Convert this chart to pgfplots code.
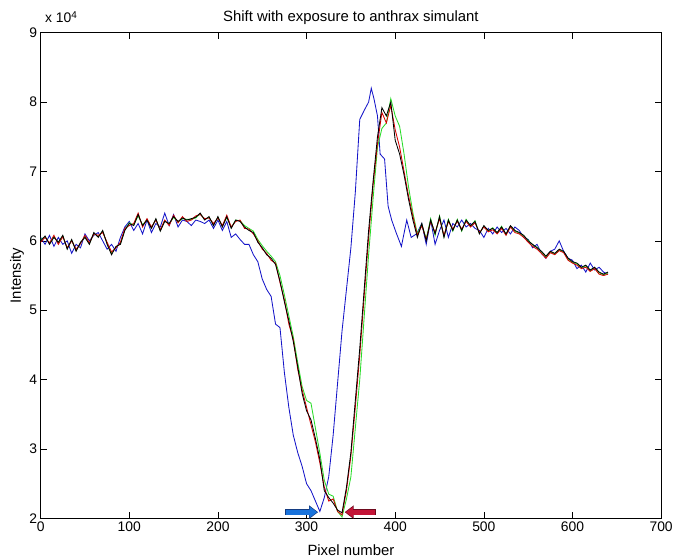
\documentclass[border=0pt]{standalone}
\usepackage{pgfplots}
\pgfplotsset{compat=1.18}
\usepackage{pgfplotstable}
\usepackage{fontspec}
\setmainfont{Liberation Sans}
\usetikzlibrary{arrows.meta}

\definecolor{mblue}{RGB}{20,20,200}
\definecolor{mgreen}{RGB}{40,220,40}
\definecolor{mred}{RGB}{215,0,0}
\definecolor{arrblue}{RGB}{25,115,220}
\definecolor{arrblueD}{RGB}{20,60,130}
\definecolor{arrred}{RGB}{195,20,55}
\definecolor{arrredD}{RGB}{110,10,30}

% x  black  red  green   (intensity in units of 10^4)
\pgfplotstableread{
x k r g
0 6.00 5.98 6.02
5 6.07 6.05 6.06
10 5.95 5.97 5.96
15 6.05 6.08 6.06
20 5.98 5.95 5.97
25 6.08 6.06 6.07
30 5.88 5.90 5.89
35 6.02 6.00 6.01
40 5.85 5.88 5.86
45 5.98 5.96 5.97
50 6.05 6.08 6.06
55 5.95 5.97 5.96
60 6.12 6.10 6.11
65 6.05 6.08 6.06
70 6.15 6.12 6.14
75 5.95 5.98 5.96
80 5.80 5.84 5.82
85 5.92 5.90 5.91
90 5.95 5.98 5.96
95 6.15 6.18 6.16
100 6.25 6.22 6.26
105 6.22 6.25 6.23
110 6.38 6.40 6.36
115 6.22 6.20 6.23
120 6.30 6.32 6.31
125 6.18 6.20 6.19
130 6.32 6.30 6.31
135 6.14 6.16 6.15
140 6.28 6.30 6.29
145 6.25 6.22 6.24
150 6.35 6.37 6.34
155 6.28 6.26 6.27
160 6.33 6.35 6.32
165 6.30 6.28 6.31
170 6.32 6.30 6.31
175 6.34 6.36 6.33
180 6.40 6.38 6.39
185 6.30 6.32 6.31
190 6.35 6.33 6.34
195 6.22 6.25 6.23
200 6.35 6.33 6.34
205 6.20 6.22 6.21
210 6.35 6.37 6.34
215 6.18 6.20 6.19
220 6.30 6.28 6.30
225 6.28 6.30 6.29
230 6.20 6.18 6.22
235 6.15 6.17 6.18
240 6.12 6.10 6.14
245 5.98 6.00 6.02
250 5.90 5.88 5.93
255 5.80 5.82 5.85
260 5.75 5.72 5.78
265 5.66 5.68 5.70
270 5.42 5.40 5.50
275 5.12 5.15 5.22
280 4.85 4.80 4.92
285 4.55 4.58 4.62
290 4.19 4.15 4.25
295 3.80 3.85 3.90
300 3.55 3.60 3.70
305 3.42 3.35 3.66
310 3.15 3.10 3.30
315 2.85 2.80 2.94
320 2.40 2.45 2.55
325 2.30 2.25 2.35
330 2.22 2.28 2.32
335 2.12 2.10 2.10
340 2.08 2.05 2.02
345 2.45 2.40 2.28
350 2.95 2.90 2.60
355 3.70 3.60 3.30
360 4.45 4.35 4.00
365 5.30 5.20 4.90
370 6.15 6.05 5.80
375 6.85 6.80 6.60
380 7.50 7.40 7.35
385 7.92 7.85 7.62
390 7.80 7.70 7.70
395 8.00 7.95 8.05
400 7.45 7.60 7.80
405 7.25 7.35 7.65
410 6.95 7.00 7.25
415 6.60 6.65 6.78
420 6.30 6.35 6.40
425 6.05 6.08 6.10
430 6.25 6.22 6.24
435 6.00 6.02 6.03
440 6.30 6.28 6.32
445 6.10 6.12 6.08
450 6.35 6.32 6.36
455 6.05 6.08 6.06
460 6.30 6.28 6.31
465 6.15 6.17 6.14
470 6.30 6.28 6.31
475 6.15 6.17 6.14
480 6.30 6.28 6.31
485 6.22 6.20 6.21
490 6.28 6.26 6.29
495 6.10 6.12 6.11
500 6.22 6.20 6.21
505 6.15 6.13 6.14
510 6.18 6.16 6.19
515 6.12 6.10 6.11
520 6.20 6.18 6.21
525 6.10 6.08 6.09
530 6.22 6.20 6.21
535 6.15 6.12 6.14
540 6.12 6.10 6.11
545 6.08 6.05 6.07
550 6.00 5.98 6.01
555 5.95 5.92 5.94
560 5.90 5.88 5.91
565 5.85 5.82 5.84
570 5.78 5.75 5.77
575 5.85 5.83 5.84
580 5.82 5.80 5.81
585 5.88 5.86 5.87
590 5.85 5.83 5.84
595 5.75 5.72 5.74
600 5.70 5.68 5.69
605 5.68 5.65 5.67
610 5.62 5.60 5.61
615 5.65 5.62 5.64
620 5.58 5.56 5.57
625 5.62 5.60 5.61
630 5.55 5.52 5.54
635 5.52 5.50 5.51
640 5.55 5.52 5.54
}\datamain

\pgfplotstableread{
x b
0 6.05
5 5.95
10 6.08
15 5.92
20 6.05
25 5.95
30 6.00
35 5.82
40 5.95
45 5.90
50 6.10
55 6.00
60 6.08
65 6.12
70 6.00
75 5.88
80 5.95
85 5.85
90 6.05
95 6.20
100 6.28
105 6.15
110 6.25
115 6.10
120 6.30
125 6.12
130 6.25
135 6.20
140 6.40
145 6.22
150 6.38
155 6.20
160 6.30
165 6.28
170 6.22
175 6.30
180 6.28
185 6.25
190 6.30
195 6.18
200 6.30
205 6.15
210 6.28
215 6.05
220 6.10
225 6.02
230 5.95
235 5.95
240 5.80
245 5.70
250 5.45
255 5.30
260 5.20
265 4.80
270 4.75
275 4.10
280 3.60
285 3.20
290 2.95
295 2.75
300 2.50
305 2.40
310 2.25
315 2.10
320 2.30
325 2.60
330 3.20
335 3.95
340 4.70
345 5.30
350 5.90
355 6.70
360 7.75
365 7.88
370 8.00
373 8.20
376 8.05
380 7.80
383 7.25
388 7.18
392 6.50
396 6.30
401 6.12
407 5.92
413 6.30
418 6.05
424 6.10
430 6.25
435 5.95
440 6.30
445 5.95
450 6.15
455 6.30
460 6.05
465 6.25
470 6.20
475 6.30
480 6.20
485 6.25
490 6.18
495 6.15
500 6.05
505 6.18
510 6.10
515 6.20
520 6.12
525 6.18
530 6.10
535 6.20
540 6.15
545 6.05
550 6.02
555 5.90
560 5.95
565 5.82
570 5.75
575 5.85
580 5.88
585 6.00
590 5.85
595 5.75
600 5.72
605 5.60
610 5.65
615 5.55
620 5.68
625 5.58
630 5.62
635 5.55
640 5.52
}\datablue

\begin{document}
\begin{tikzpicture}
\begin{axis}[
  scale only axis,
  width=626bp, height=490bp,
  xmin=0, xmax=700, ymin=2, ymax=9,
  xtick={0,100,...,700}, ytick={2,3,...,9},
  tick align=inside,
  major tick length=6bp,
  axis line style={line width=0.8bp},
  every tick/.style={line width=0.6bp, black},
  /pgf/number format/assume math mode=true,
  ticklabel style={font=\fontsize{14bp}{16bp}\selectfont},
  clip=true,
]
\addplot[mblue, line width=0.85bp] table[x=x,y=b] {\datablue};
\addplot[mgreen, line width=0.85bp] table[x=x,y=g] {\datamain};
\addplot[mred, line width=0.85bp] table[x=x,y=r] {\datamain};
\addplot[black, line width=0.85bp] table[x=x,y=k] {\datamain};
\draw[arrblueD, line width=6.5bp, -{Triangle[length=9bp,width=13bp]}] (axis cs:276,2.09) -- (axis cs:313,2.09);
\draw[arrblue, line width=5bp, shorten >=1bp, -{Triangle[length=7.5bp,width=10.5bp]}] (axis cs:277,2.09) -- (axis cs:313,2.09);
\draw[arrredD, line width=6.5bp, -{Triangle[length=9bp,width=13bp]}] (axis cs:378,2.09) -- (axis cs:343,2.09);
\draw[arrred, line width=5bp, shorten >=1bp, -{Triangle[length=7.5bp,width=10.5bp]}] (axis cs:377,2.09) -- (axis cs:343,2.09);
\end{axis}
\node[anchor=base west, font=\fontsize{14bp}{16bp}\selectfont] at ([xshift=1bp,yshift=10bp]current axis.north west) {x 10\raisebox{0.55ex}{\fontsize{10bp}{12bp}\selectfont 4}};
\node[anchor=base, font=\fontsize{15bp}{18bp}\selectfont] at ([yshift=11bp]current axis.north) {Shift with exposure to anthrax simulant};
\node[anchor=base, font=\fontsize{15bp}{18bp}\selectfont] at ([yshift=-37bp]current axis.south) {Pixel number};
\node[anchor=base, rotate=90, font=\fontsize{15bp}{18bp}\selectfont] at ([xshift=-20bp]current axis.west) {Intensity};
\path ([xshift=-41bp,yshift=-41bp]current axis.south west) rectangle ([xshift=9bp,yshift=33bp]current axis.north east);
\end{tikzpicture}
\end{document}
